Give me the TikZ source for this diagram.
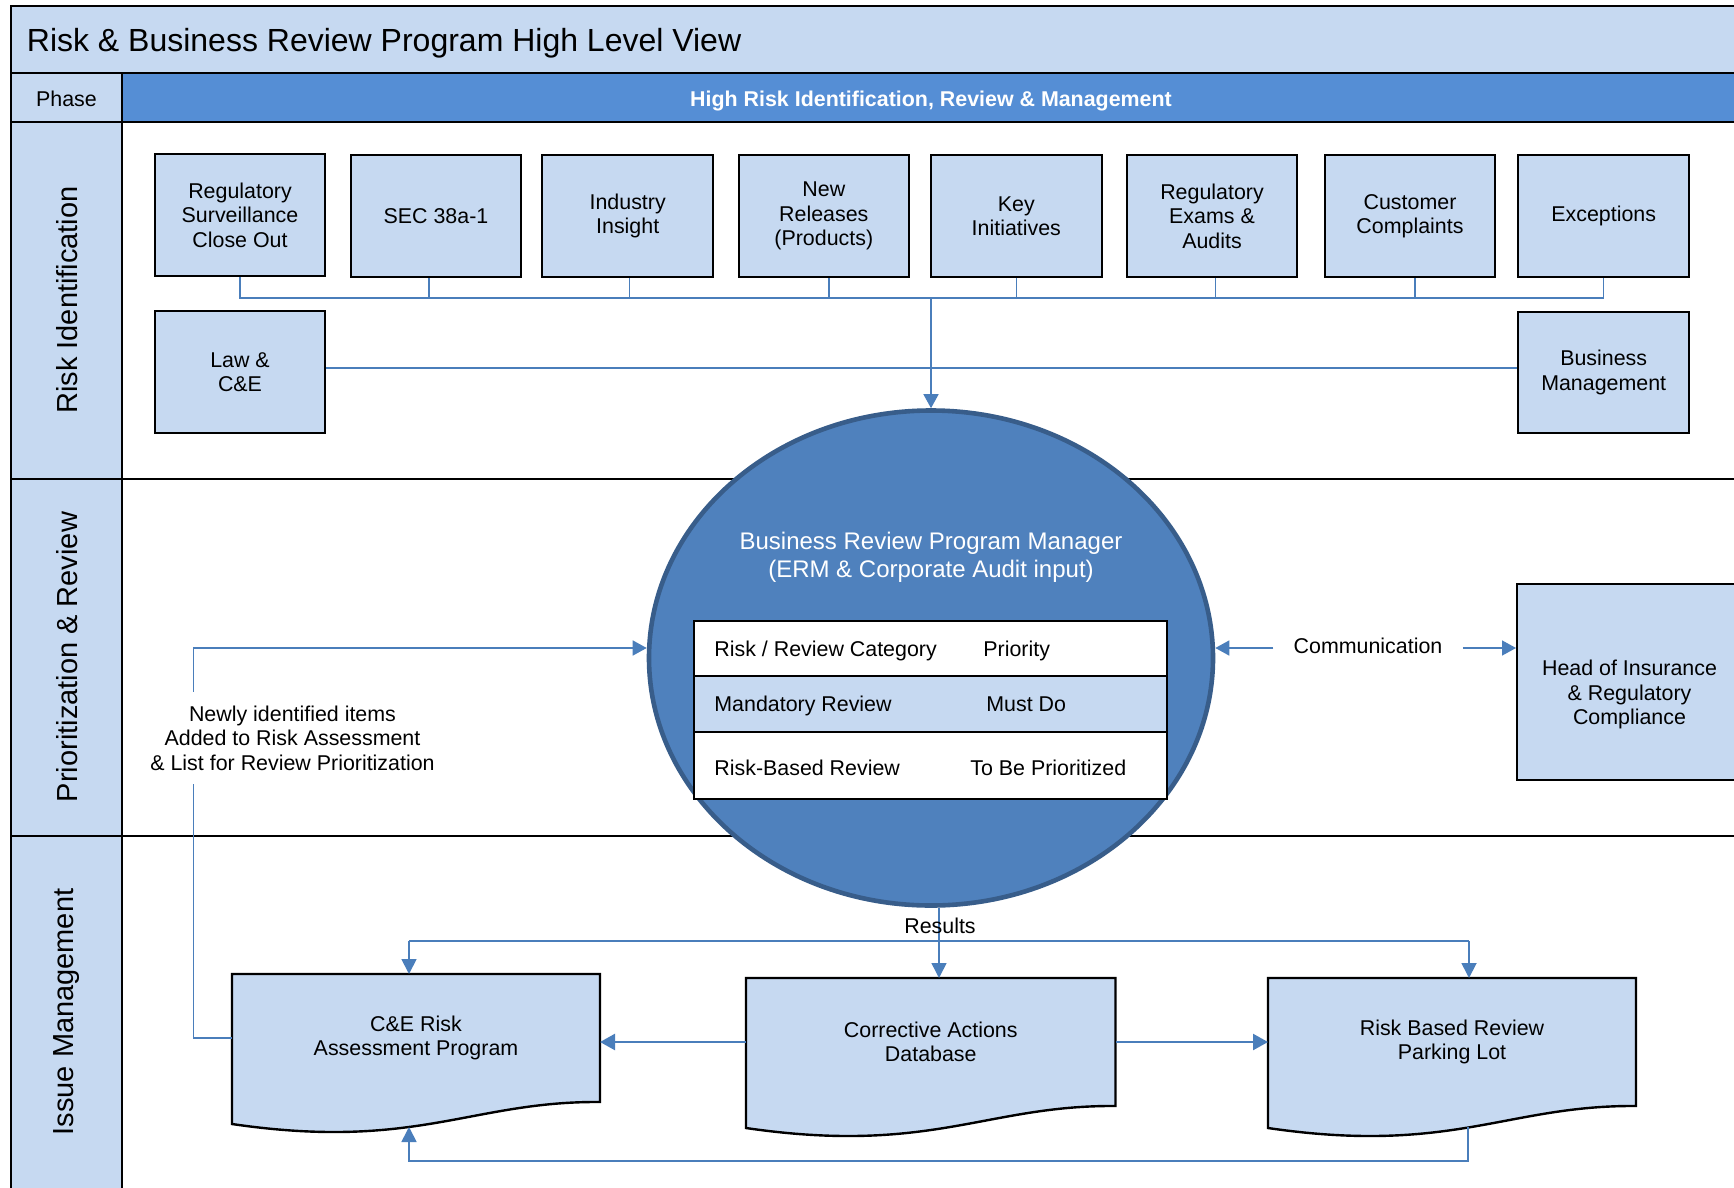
\documentclass[tikz,border=0pt]{standalone}
\usepackage{fontspec}
\setmainfont{Liberation Sans}
\usetikzlibrary{arrows.meta,calc,backgrounds,shapes.geometric}

\definecolor{paleblue}{HTML}{C6D9F1}
\definecolor{bandblue}{HTML}{558ED5}
\definecolor{discblue}{HTML}{4F81BD}
\definecolor{discedge}{HTML}{385D8A}
\definecolor{linkblue}{HTML}{4A7EBB}

% document symbol: straight top and sides, wavy bottom edge
\newcommand\docoutline[1]{%
  \path[docline] (#1.north west) -- (#1.north east) -- (#1.south east)
    .. controls ($(#1.south west)!0.65!(#1.south east)+(0,-1)$)
           and ($(#1.south west)!0.5!(#1.south east)+(0,49)$)
    .. ($(#1.south west)+(0,22)$) -- cycle;}

\begin{document}
\begin{tikzpicture}[x=0.5pt,y=-0.5pt,
  rule/.style={draw=black, line width=1pt},
  txt/.style={font=\fontsize{10.7}{12.2}\selectfont, align=center, inner sep=0pt},
  oneline/.style={text height=7.7pt, text depth=2.2pt},
  srcbox/.style={txt, draw=black, line width=1pt, fill=paleblue,
    minimum width=85.25pt, minimum height=60.75pt},
  phaselabel/.style={font=\fontsize{14.5}{17}\selectfont, rotate=90, inner sep=0pt},
  cell/.style={draw=black, line width=1pt, minimum width=236.5pt, inner sep=0pt},
  celltext/.style={txt, oneline, anchor=west},
  docnode/.style={txt, minimum width=184pt, minimum height=64pt, outer sep=0pt},
  docline/.style={draw=black, line width=1.2pt, fill=paleblue, line join=miter},
  link/.style={draw=linkblue, line width=0.75pt},
  linkarrow/.style={link, -{Triangle[length=7pt,width=7.5pt]}},
  flow/.style={draw=linkblue, line width=0.9pt},
  flowarrow/.style={flow, -{Triangle[length=7.5pt,width=7.5pt]}},
  heavyarrow/.style={draw=linkblue, line width=1.2pt, -{Triangle[length=7.5pt,width=8pt]}}
]
\useasboundingbox (0,0) rectangle (1734,1188);
\begin{scope}[on background layer]
  \fill[white] (0,0) rectangle (1734,1188);
\end{scope}
\clip (0,0) rectangle (1734,1188);

% ---- table frame ----
\fill[paleblue] (11,6) rectangle (1760,73);
\fill[paleblue] (11,73) rectangle (122,1200);
\fill[bandblue] (122,73) rectangle (1760,122);
\draw[rule] (1760,6) -- (11,6) -- (11,1200);
\draw[rule] (11,73) -- (1760,73);
\draw[rule] (11,122) -- (1760,122);
\draw[rule] (11,479) -- (1760,479);
\draw[rule] (11,836) -- (1760,836);
\draw[rule] (122,73) -- (122,1200);

\node[anchor=base west, inner sep=0pt, font=\fontsize{16}{19}\selectfont]
  (title) at (26.5,52) {Risk \& Business Review Program High Level View};
\node[txt, oneline] (phase) at (66.5,101) {Phase};
\node[txt, oneline, text=white, font=\fontsize{10.7}{12.2}\selectfont\bfseries]
  (band) at (931,101) {High Risk Identification, Review \& Management};

\node[phaselabel] (lblid) at (67,300) {Risk Identification};
\node[phaselabel] (lblpr) at (67,657) {Prioritization \& Review};
\node[phaselabel] (lblim) at (67,1012) {Issue Management};

% ---- risk sources ----
\node[srcbox] (regsurv)  at (240,215)    {Regulatory\\Surveillance\\Close Out};
\node[srcbox] (sec)      at (436,216)    {SEC 38a-1};
\node[srcbox] (indins)   at (627.7,216)  {Industry\\Insight};
\node[srcbox] (newrel)   at (823.8,216)  {New\\Releases\\(Products)};
\node[srcbox] (keyinit)  at (1016.3,216) {Key\\Initiatives};
\node[srcbox] (regexam)  at (1212,216)   {Regulatory\\Exams \&\\Audits};
\node[srcbox] (custcomp) at (1410,216)   {Customer\\Complaints};
\node[srcbox] (except)   at (1603.7,216) {Exceptions};
\node[srcbox] (lawce)    at (240,372)    {Law \&\\C\&E};
\node[srcbox] (busmgmt)  at (1603.7,372.5) {Business\\Management};

% ---- program manager ----
\node[ellipse, draw=discedge, fill=discblue, line width=2.3pt,
  minimum width=282pt, minimum height=247.5pt, inner sep=0pt] (bigc) at (931,658) {};
\node[align=center, inner sep=0pt, text=white, font=\fontsize{12}{13.8}\selectfont]
  (mgr) at (931,557) {Business Review Program Manager\\(ERM \& Corporate Audit input)};

\node[cell, fill=white,     minimum height=27.5pt] (rowhead) at (930.5,648.5) {};
\node[cell, fill=paleblue,  minimum height=28pt]   (rowmand) at (930.5,704) {};
\node[cell, fill=white,     minimum height=33.5pt] (rowrisk) at (930.5,765.5) {};
\node[celltext] (cathead) at (714,650.5) {Risk / Review Category};
\node[celltext] (prihead) at (983,650.5) {Priority};
\node[celltext] (catmand) at (714,706) {Mandatory Review};
\node[celltext] (primand) at (986,706) {Must Do};
\node[celltext] (catrisk) at (714,769.5) {Risk-Based Review};
\node[celltext] (pririsk) at (970,769.5) {To Be Prioritized};

% ---- source connectors ----
\coordinate (bus) at (931,298);
\coordinate (lawrow) at (931,368);
\draw[link] (regsurv.south) -- (regsurv.south |- bus) -- (except.south |- bus) -- (except.south);
\foreach \nm/\dx in {sec/-7,indins/2,newrel/5,keyinit/0,regexam/3.5,custcomp/5}
  \draw[link] ($(\nm.south)+(\dx,0)$) -- ($(\nm.south |- bus)+(\dx,0)$);
\draw[link] (lawce.east |- lawrow) -- (busmgmt.west |- lawrow);
\draw[linkarrow] (bus) -- (bus |- bigc.north);

% ---- communication ----
\node[srcbox, minimum width=112.5pt, minimum height=98pt] (headbox) at (1629.5,682) {};
\node[txt] (headtext) at (1629.5,694.5) {Head of Insurance\\\& Regulatory\\Compliance};
\node[txt, oneline, inner xsep=10pt] (comm) at (1368,648) {Communication};
\draw[linkarrow] (comm.west) -- (comm.west -| bigc.east);
\draw[linkarrow] (comm.east) -- (comm.east -| headbox.west);

% ---- issue management documents ----
\node[docnode] (cerisk) at (416,1038)    {C\&E Risk\\Assessment Program};
\node[docnode, minimum width=184.75pt] (cad) at (930.75,1042) {Corrective Actions\\Database};
\node[docnode] (rbr)    at (1452,1042)   {Risk Based Review\\Parking Lot};
\begin{scope}[on background layer]
  \foreach \d in {cerisk,cad,rbr} {\docoutline{\d}}
\end{scope}

% newly identified items feed back into the review list
\coordinate (nlturn) at (193.5,648);
\draw[linkarrow] (cerisk.west) -| (nlturn) -- (nlturn -| bigc.west);
\node[txt, fill=white, inner xsep=2pt, inner ysep=7pt] (newly) at (292.5,738)
  {Newly identified items\\Added to Risk Assessment\\\& List for Review Prioritization};

% results distribution
\coordinate (resjoin) at (939,941);
\coordinate (busL) at (409,941);
\coordinate (busR) at (1469,941);
\draw[link, -{Triangle[length=7.5pt,width=7.5pt]}] (bigc.south -| resjoin) -- (cad.north -| resjoin);
\node[txt, oneline] (res) at (940,928) {Results};
\draw[flow] (busL) -- (busR);
\draw[flowarrow] (busL) -- (busL |- cerisk.north);
\draw[flowarrow] (busR) -- (busR |- rbr.north);

\draw[heavyarrow] (cad.west) -- (cad.west -| cerisk.east);
\draw[heavyarrow] (cad.east) -- (cad.east -| rbr.west);

% parking lot loops back to the risk assessment program
\coordinate (loopR) at (1468,1161);
\coordinate (loopL) at (409,1161);
\draw[flowarrow] ($(rbr.south -| loopR)+(0,21)$) -- (loopR) -- (loopL)
  -- ($(cerisk.south -| loopL)+(0,25)$);
\end{tikzpicture}
\end{document}
